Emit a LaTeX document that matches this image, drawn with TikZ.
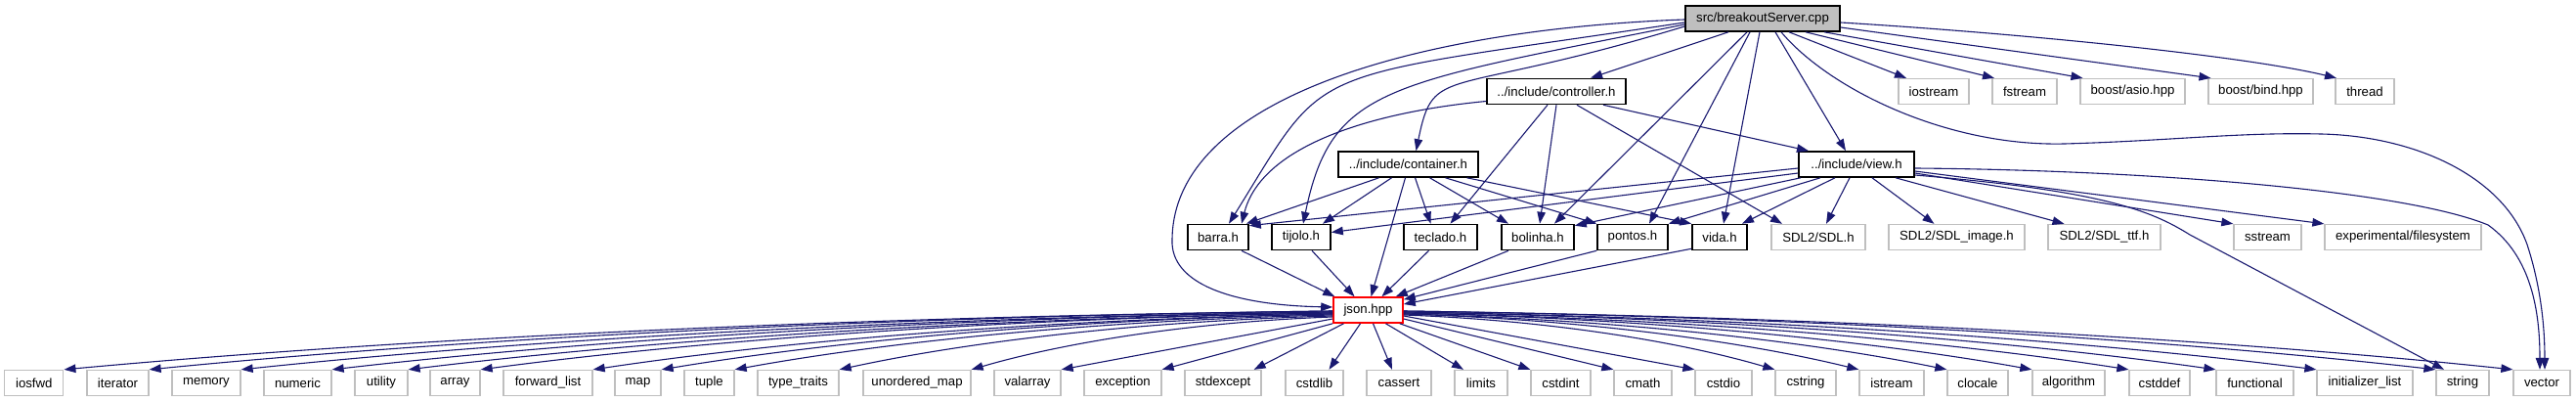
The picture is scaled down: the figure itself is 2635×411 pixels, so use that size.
\documentclass[tikz,border=0pt]{standalone}
\usepackage{fontspec}
\setmainfont{Liberation Sans}
\usetikzlibrary{arrows.meta,calc}
\definecolor{mblue}{HTML}{191970}
\definecolor{grey75}{HTML}{BFBFBF}
\newcommand\fanedge[2]{%
  \draw[dep] let \p1=#1, \p2=#2 in
    (\p1) .. controls ({\x1+0.4*(\x2-\x1)},{\y1+0.1*(\y2-\y1)})
             and ({\x1+0.75*(\x2-\x1)},{\y1+0.5*(\y2-\y1)}) .. (\p2);}
\begin{document}
\begin{tikzpicture}[x=1pt,y=-1pt,
  box/.style={draw=black, line width=1.6pt, fill=white, minimum height=26pt, inner sep=0pt,
    font=\fontsize{13.2}{15}\selectfont, text=black},
  gbox/.style={box, draw=grey75, line width=1.3pt},
  dep/.style={draw=mblue, line width=1.1pt, -{Triangle[length=12pt,width=8.5pt]}}]
\fill[white] (0,0) rectangle (2635,411);
\useasboundingbox (0,0) rectangle (2635,411);
% rank 1
\node[box, fill=grey75, minimum width=158pt] (src) at (1803,19) {src/breakoutServer.cpp};
% rank 2
\node[box, minimum width=142pt] (ctrl) at (1592,93.5) {../include/controller.h};
\node[gbox, minimum width=72pt] (iostream) at (1978,93.5) {iostream};
\node[gbox, minimum width=66pt] (fstream) at (2071,93.5) {fstream};
\node[gbox, minimum width=107pt] (asio) at (2181.5,93.5) {boost/asio.hpp};
\node[gbox, minimum width=107pt] (bind) at (2312.5,93.5) {boost/bind.hpp};
\node[gbox, minimum width=60pt] (thread) at (2419,93.5) {thread};
% rank 3
\node[box, minimum width=143pt] (cont) at (1440.5,168) {../include/container.h};
\node[box, minimum width=118pt] (view) at (1899,168) {../include/view.h};
% rank 4
\node[box, minimum width=62pt] (barra) at (1246,242.5) {barra.h};
\node[box, minimum width=60pt] (tijolo) at (1331,242.5) {tijolo.h};
\node[box, minimum width=75pt] (teclado) at (1473.5,242.5) {teclado.h};
\node[box, minimum width=74pt] (bolinha) at (1573,242.5) {bolinha.h};
\node[box, minimum width=72pt] (pontos) at (1670,242.5) {pontos.h};
\node[box, minimum width=56pt] (vida) at (1759,242.5) {vida.h};
\node[gbox, minimum width=96pt] (sdl) at (1860,242.5) {SDL2/SDL.h};
\node[gbox, minimum width=139pt] (sdlimg) at (2001.5,242.5) {SDL2/SDL\_image.h};
\node[gbox, minimum width=115pt] (sdlttf) at (2152.5,242.5) {SDL2/SDL\_ttf.h};
\node[gbox, minimum width=69pt] (sstream) at (2319.5,242.5) {sstream};
\node[gbox, minimum width=160pt] (expfs) at (2458,242.5) {experimental/filesystem};
% rank 5
\node[box, draw=red, minimum width=71pt] (json) at (1399.5,317) {json.hpp};
% rank 6
\node[gbox, minimum width=60pt] (iosfwd) at (34.8,391.5) {iosfwd};
\node[gbox, minimum width=63pt] (iterator) at (120.5,391.5) {iterator};
\node[gbox, minimum width=70pt] (memory) at (211,391.5) {memory};
\node[gbox, minimum width=69pt] (numeric) at (304.5,391.5) {numeric};
\node[gbox, minimum width=54pt] (utility) at (390,391.5) {utility};
\node[gbox, minimum width=51pt] (array) at (465.5,391.5) {array};
\node[gbox, minimum width=91pt] (fwdlist) at (560.5,391.5) {forward\_list};
\node[gbox, minimum width=47pt] (map) at (652.5,391.5) {map};
\node[gbox, minimum width=51pt] (tuple) at (725.5,391.5) {tuple};
\node[gbox, minimum width=83pt] (typetraits) at (816.5,391.5) {type\_traits};
\node[gbox, minimum width=110pt] (umap) at (938,391.5) {unordered\_map};
\node[gbox, minimum width=68pt] (valarray) at (1051,391.5) {valarray};
\node[gbox, minimum width=79pt] (exception) at (1148.5,391.5) {exception};
\node[gbox, minimum width=78pt] (stdexcept) at (1251,391.5) {stdexcept};
\node[gbox, minimum width=59pt] (cstdlib) at (1344.5,391.5) {cstdlib};
\node[gbox, minimum width=66pt] (cassert) at (1431,391.5) {cassert};
\node[gbox, minimum width=54pt] (limits) at (1515,391.5) {limits};
\node[gbox, minimum width=61pt] (cstdint) at (1596.5,391.5) {cstdint};
\node[gbox, minimum width=59pt] (cmath) at (1680.5,391.5) {cmath};
\node[gbox, minimum width=58pt] (cstdio) at (1763,391.5) {cstdio};
\node[gbox, minimum width=62pt] (cstring) at (1847,391.5) {cstring};
\node[gbox, minimum width=66pt] (istream) at (1935,391.5) {istream};
\node[gbox, minimum width=62pt] (clocale) at (2023,391.5) {clocale};
\node[gbox, minimum width=74pt] (algorithm) at (2116,391.5) {algorithm};
\node[gbox, minimum width=62pt] (cstddef) at (2209,391.5) {cstddef};
\node[gbox, minimum width=79pt] (functional) at (2306.5,391.5) {functional};
\node[gbox, minimum width=98pt] (initlist) at (2419,391.5) {initializer\_list};
\node[gbox, minimum width=54pt] (string) at (2519,391.5) {string};
\node[gbox, minimum width=58pt] (vector) at (2600,391.5) {vector};

% ---- edges from src
\draw[dep] ([yshift=-1pt]src.west) .. controls (1450,30) and (1200,100) .. (1199,245)
  .. controls (1197,290) and (1260,312) .. ([yshift=3pt]json.west);
\draw[dep] ([yshift=-4pt]src.west) .. controls (1324,83) and (1362,60) .. ([xshift=11pt]barra.north);
\draw[dep] ([yshift=-6pt]src.west) .. controls (1418,86) and (1362,88) .. ([xshift=2pt]tijolo.north);
\draw[dep] ([yshift=-8pt]src.west) .. controls (1475,102) and (1467,64) .. ([xshift=8pt]cont.north);
\draw[dep] ([xshift=-35pt]src.south) -- ([xshift=35pt]ctrl.north);
\draw[dep] ([xshift=-16pt]src.south) -- ([xshift=17pt]bolinha.north);
\draw[dep] ([xshift=-13pt]src.south) -- ([xshift=17pt]pontos.north);
\draw[dep] ([xshift=-3pt]src.south) -- ([xshift=4pt]vida.north);
\draw[dep] ([xshift=13pt]src.south) -- ([xshift=-11pt]view.north);
\draw[dep] ([xshift=27pt]src.south) -- ([xshift=-28pt]iostream.north);
\draw[dep] ([xshift=44pt]src.south) -- ([xshift=-31pt]fstream.north);
\draw[dep] ([xshift=63pt]src.south) -- ([xshift=-51pt]asio.north);
\draw[dep] ([yshift=-9pt]src.east) -- ([xshift=-51pt]bind.north);
\draw[dep] ([yshift=-4pt]src.east) .. controls (2080,35) and (2300,58) .. ([xshift=-29pt]thread.north);
\draw[dep] ([xshift=19pt]src.south) .. controls (1870,90) and (1990,150) .. (2112,147)
  .. controls (2220,144) and (2290,135) .. (2374,137)
  .. controls (2470,139) and (2560,180) .. (2585,250)
  .. controls (2598,290) and (2603,330) .. ([xshift=3pt]vector.north);

% ---- edges from controller.h
\draw[dep] ([yshift=-10pt]ctrl.west) .. controls (1400,115) and (1290,150) .. ([xshift=24pt]barra.north);
\draw[dep] ([xshift=-9pt]ctrl.south) -- ([xshift=10pt]teclado.north);
\draw[dep] (ctrl.south) -- ([xshift=2pt]bolinha.north);
\draw[dep] ([xshift=21pt]ctrl.south) -- ([xshift=-37pt]sdl.north);
\draw[dep] ([xshift=48pt]ctrl.south) -- ([xshift=-49pt]view.north);

% ---- edges from container.h
\draw[dep] ([xshift=-30pt]cont.south) -- ([xshift=-3pt]barra.north east);
\draw[dep] ([xshift=-17pt]cont.south) -- ([xshift=22pt]tijolo.north);
\draw[dep] ([xshift=-3pt]cont.south) -- ([xshift=3pt]json.north);
\draw[dep] ([xshift=7pt]cont.south) -- ([xshift=-10pt]teclado.north);
\draw[dep] ([xshift=22pt]cont.south) -- ([xshift=-30pt]bolinha.north);
\draw[dep] ([xshift=38pt]cont.south) -- (pontos.north west);
\draw[dep] ([xshift=60pt]cont.south) -- (vida.north west);

% ---- edges from view.h
\draw[dep] ([yshift=-4pt]view.west) -- ([yshift=-2pt]barra.north east);
\draw[dep] ([yshift=-9pt]view.west) -- ([yshift=5pt]tijolo.east);
\draw[dep] ([xshift=-57pt]view.south) -- ([yshift=-2pt]bolinha.north east);
\draw[dep] ([xshift=-37pt]view.south) -- (pontos.north east);
\draw[dep] ([xshift=-22pt]view.south) -- ([xshift=23pt]vida.north);
\draw[dep] ([xshift=-7pt]view.south) -- ([xshift=8pt]sdl.north);
\draw[dep] ([xshift=16pt]view.south) -- ([xshift=-23pt]sdlimg.north);
\draw[dep] ([xshift=40pt]view.south) -- ([xshift=-41pt]sdlttf.north);
\draw[dep] ([yshift=-9pt]view.east) -- (sstream.north west);
\draw[dep] ([yshift=-7pt]view.east) -- (expfs.north west);
\draw[dep] ([yshift=-11pt]view.east) .. controls (2150,195) and (2200,215) .. (2240,240)
  -- ([xshift=-19pt]string.north);
\draw[dep] ([yshift=-4pt]view.east) .. controls (2200,174) and (2460,195) .. (2545,230)
  .. controls (2590,262) and (2598,320) .. ([xshift=-2pt]vector.north);

% ---- edges into json.hpp
\draw[dep] ([xshift=24pt]barra.south) -- ([xshift=2pt]json.north west);
\draw[dep] ([xshift=11pt]tijolo.south) -- ([xshift=-14pt]json.north);
\draw[dep] ([xshift=-12pt]teclado.south) -- ([xshift=14pt]json.north);
\draw[dep] ([xshift=-30pt]bolinha.south) -- ([xshift=-8pt]json.north east);
\draw[dep] (pontos.south west) -- ([yshift=-3pt]json.north east);
\draw[dep] ([yshift=2pt]vida.south west) -- ([yshift=6pt]json.east);

% ---- edges from json.hpp
\fanedge{([yshift=-1pt]json.west)}{(iosfwd.north east)}
\fanedge{([yshift=-1pt]json.west)}{(iterator.north east)}
\fanedge{([yshift=-2pt]json.west)}{(memory.north east)}
\fanedge{([yshift=-2pt]json.west)}{(numeric.north east)}
\fanedge{([yshift=-3pt]json.west)}{(utility.north east)}
\fanedge{([yshift=-3pt]json.west)}{(array.north east)}
\fanedge{([yshift=-4pt]json.west)}{(fwdlist.north east)}
\fanedge{([yshift=-4pt]json.west)}{(map.north east)}
\fanedge{([yshift=-5pt]json.west)}{(tuple.north east)}
\fanedge{([yshift=-6pt]json.west)}{(typetraits.north east)}
\fanedge{([yshift=-7pt]json.west)}{(umap.north east)}
\draw[dep] ([yshift=-9pt]json.west) -- (valarray.north east);
\draw[dep] (json.south west) -- (exception.north east);
\draw[dep] ([xshift=-25pt]json.south) -- ([xshift=-8pt]stdexcept.north east);
\draw[dep] ([xshift=-8pt]json.south) -- ([xshift=15pt]cstdlib.north);
\draw[dep] ([xshift=5pt]json.south) -- ([xshift=-7pt]cassert.north);
\draw[dep] ([xshift=18pt]json.south) -- ([xshift=-18pt]limits.north);
\draw[dep] ([xshift=-4pt]json.south east) -- (cstdint.north west);
\draw[dep] ([yshift=-9pt]json.east) -- (cmath.north west);
\draw[dep] ([yshift=-6pt]json.east) -- (cstdio.north west);
\fanedge{([yshift=-5pt]json.east)}{(cstring.north west)}
\fanedge{([yshift=-4pt]json.east)}{(istream.north west)}
\fanedge{([yshift=-4pt]json.east)}{(clocale.north west)}
\fanedge{([yshift=-3pt]json.east)}{(algorithm.north west)}
\fanedge{([yshift=-3pt]json.east)}{(cstddef.north west)}
\fanedge{([yshift=-2pt]json.east)}{(functional.north west)}
\fanedge{([yshift=-2pt]json.east)}{(initlist.north west)}
\fanedge{([yshift=-1pt]json.east)}{(string.north west)}
\fanedge{([yshift=-1pt]json.east)}{(vector.north west)}
\end{tikzpicture}
\end{document}
